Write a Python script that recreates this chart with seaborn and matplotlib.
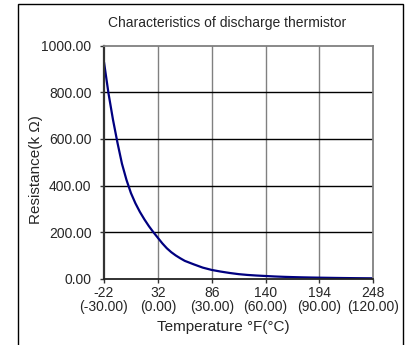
import matplotlib
matplotlib.use("Agg")
import matplotlib.pyplot as plt
import seaborn as sns
import pandas as pd
from matplotlib.patches import Rectangle

temp_c = [-30, -27.5, -25, -22.5, -20, -17.5, -15, -12.5, -10, -7.5, -5, -2.5, 0,
          2.5, 5, 7.5, 10, 12.5, 15, 20, 25, 30, 35, 40, 45, 50, 55, 60, 65, 70,
          75, 80, 85, 90, 95, 100, 105, 110, 115, 120]
resistance = [930, 796, 683, 584, 494, 425, 368, 324, 287, 255, 226, 200, 176,
              152, 131, 114, 100, 88, 77, 62, 48, 38, 31, 25, 20, 16.5, 14, 12, 10,
              8.5, 7.3, 6.3, 5.5, 4.8, 4.2, 3.6, 3.1, 2.7, 2.4, 2.1]

tick_c = [-30, 0, 30, 60, 90, 120]
tick_f = ["-22", "32", "86", "140", "194", "248"]
ytick_vals = [0, 200, 400, 600, 800, 1000]

title = "Characteristics of discharge thermistor"
xlabel = "Temperature °F(°C)"
ylabel = "Resistance(k Ω)"

sns.set_theme(style="white")
plt.rcParams["font.family"] = ["Liberation Sans", "DejaVu Sans"]

df = pd.DataFrame({"temp": temp_c, "res": resistance})

fig = plt.figure(figsize=(4.09, 3.45), dpi=100)
ax_l, ax_r, ax_t, ax_b = 104, 373.3, 45.8, 278.8
ax = fig.add_axes([ax_l / 409, 1 - ax_b / 345, (ax_r - ax_l) / 409, (ax_b - ax_t) / 345])

# outer border
fig.patches.append(Rectangle((18 / 409, -0.02), (403 - 18) / 409, 1 - 4 / 345 + 0.02,
                             transform=fig.transFigure, fill=False,
                             edgecolor="black", linewidth=1.0))

sns.lineplot(data=df, x="temp", y="res", ax=ax, color="#000080", linewidth=1.6)

ax.set_xlim(-30, 120)
ax.set_ylim(0, 1000)
ax.set_xticks(tick_c)
ax.set_xticklabels([f"{f}\n({c:.2f})" for f, c in zip(tick_f, tick_c)],
                   fontsize=10, linespacing=1.05)
ax.set_yticks(ytick_vals)
ax.set_yticklabels([f"{v:.2f}" for v in ytick_vals], fontsize=10)

for v in tick_c[1:-1]:
    ax.axvline(v, color="#808080", linewidth=1.0, zorder=0)
for v in ytick_vals[1:-1]:
    ax.axhline(v, color="#000000", linewidth=1.0, zorder=0)

ax.spines["left"].set_color("#333333")
ax.spines["left"].set_linewidth(1.6)
ax.spines["bottom"].set_color("#222222")
ax.spines["bottom"].set_linewidth(1.3)
ax.spines["top"].set_color("#808080")
ax.spines["top"].set_linewidth(1.3)
ax.spines["right"].set_color("#808080")
ax.spines["right"].set_linewidth(1.3)

ax.tick_params(axis="y", length=3, width=1, color="#333333", pad=6, left=True)
ax.tick_params(axis="x", length=3, width=1, color="#333333", pad=2, bottom=True)

ax.set_xlabel(xlabel, fontsize=11, va="center")
ax.set_ylabel(ylabel, fontsize=11, va="center")
ax.xaxis.set_label_coords((223 - ax_l) / (ax_r - ax_l), (ax_b - 327) / (ax_b - ax_t))
ax.yaxis.set_label_coords((36 - ax_l) / (ax_r - ax_l), (ax_b - 170) / (ax_b - ax_t))
fig.text(227 / 409, 1 - 23 / 345, title, ha="center", va="center", fontsize=10)

fig.savefig("out.png", dpi=100)
